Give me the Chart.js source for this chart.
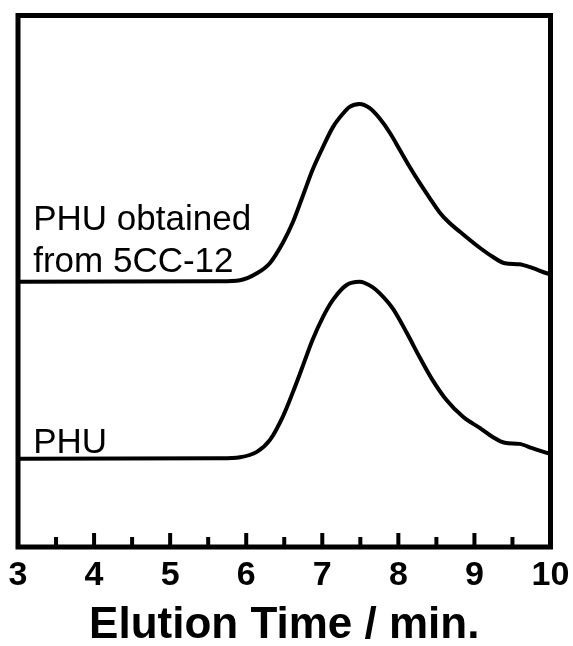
<!DOCTYPE html>
<html>
<head>
<meta charset="utf-8">
<script src="https://cdn.jsdelivr.net/npm/chart.js@4"></script>
<style>
  body { margin: 0; background: #fff; }
  #gpc { display: block; }
</style>
</head>
<body>
<canvas id="gpc" width="573" height="646"></canvas>
<script>
// GPC 曲線資料（從圖上讀出，訊號為任意單位）
var upperTime = [3.0, 5.65, 5.92, 6.14, 6.31, 6.48, 6.61, 6.74, 6.87, 7.01, 7.14, 7.27, 7.36, 7.49, 7.62, 7.75, 7.89, 8.02, 8.15, 8.28, 8.41, 8.54, 8.67, 8.81, 9.07, 9.24, 9.40, 9.59, 9.76, 9.95, 10.0];
var upperSignal = [49.9, 50.0, 50.2, 51.5, 53.4, 57.2, 61.0, 65.9, 70.9, 75.3, 79.0, 81.5, 82.8, 83.35, 82.6, 80.7, 77.9, 74.7, 71.5, 68.5, 65.7, 63.0, 61.0, 59.3, 56.3, 54.6, 53.4, 53.2, 52.5, 51.5, 51.3];

var lowerTime = [3.0, 5.65, 5.92, 6.14, 6.31, 6.48, 6.61, 6.74, 6.87, 7.01, 7.14, 7.32, 7.49, 7.66, 7.75, 7.93, 8.11, 8.28, 8.45, 8.63, 8.85, 9.07, 9.24, 9.40, 9.59, 9.76, 9.95, 10.0];
var lowerSignal = [16.6, 16.7, 16.9, 17.9, 20.1, 24.5, 29.0, 33.9, 38.9, 43.3, 46.5, 49.3, 49.9, 48.9, 47.8, 44.8, 40.3, 35.7, 31.4, 27.7, 24.5, 22.4, 20.7, 19.6, 19.4, 18.6, 17.7, 17.5];

var majorTicks = [3, 4, 5, 6, 7, 8, 9, 10];
var minorTicks = [3.5, 4.5, 5.5, 6.5, 7.5, 8.5, 9.5];

var FONT = '"Liberation Sans", Arial, Helvetica, sans-serif';

function toPoints(xs, ys) {
    return xs.map(function (x, i) { return { x: x, y: ys[i] }; });
}

// 外框與向內的刻度
var framePlugin = {
    id: 'frame',
    afterDatasetsDraw: function (chart) {
        var ctx = chart.ctx;
        var a = chart.chartArea;
        var xs = chart.scales.x;
        ctx.save();
        ctx.strokeStyle = '#000';
        ctx.lineWidth = 4;
        ctx.lineCap = 'butt';
        majorTicks.forEach(function (t) {
            var px = xs.getPixelForValue(t);
            ctx.beginPath();
            ctx.moveTo(px, a.bottom);
            ctx.lineTo(px, a.bottom - 14);
            ctx.stroke();
        });
        minorTicks.forEach(function (t) {
            var px = xs.getPixelForValue(t);
            ctx.beginPath();
            ctx.moveTo(px, a.bottom);
            ctx.lineTo(px, a.bottom - 10);
            ctx.stroke();
        });
        ctx.lineWidth = 5;
        ctx.strokeRect(a.left, a.top, a.right - a.left, a.bottom - a.top);
        ctx.restore();
    }
};

// 曲線旁的文字
var labelPlugin = {
    id: 'curveLabels',
    afterDatasetsDraw: function (chart) {
        var ctx = chart.ctx;
        var xs = chart.scales.x;
        var ys = chart.scales.y;
        var items = [
            { text: 'PHU obtained', x: 3.2, y: 59.6 },
            { text: 'from 5CC-12', x: 3.2, y: 51.7 },
            { text: 'PHU', x: 3.2, y: 17.7 }
        ];
        ctx.save();
        ctx.fillStyle = '#000';
        ctx.font = '35px ' + FONT;
        ctx.textAlign = 'left';
        ctx.textBaseline = 'alphabetic';
        items.forEach(function (it) {
            ctx.fillText(it.text, xs.getPixelForValue(it.x), ys.getPixelForValue(it.y));
        });
        ctx.restore();
    }
};

var lineStyle = {
    borderColor: '#000',
    borderWidth: 4,
    pointRadius: 0,
    fill: false,
    cubicInterpolationMode: 'monotone'
};

var chart = new Chart(document.getElementById('gpc').getContext('2d'), {
    type: 'line',
    data: {
        datasets: [
            Object.assign({ label: 'PHU obtained from 5CC-12', data: toPoints(upperTime, upperSignal) }, lineStyle),
            Object.assign({ label: 'PHU', data: toPoints(lowerTime, lowerSignal) }, lineStyle)
        ]
    },
    options: {
        responsive: false,
        animation: false,
        layout: { padding: { left: 18, right: 22.5, top: 15.5, bottom: 0 } },
        plugins: {
            legend: { display: false },
            tooltip: { enabled: false }
        },
        scales: {
            x: {
                type: 'linear',
                min: 3,
                max: 10,
                grid: { display: false, drawTicks: false },
                border: { display: false },
                ticks: {
                    stepSize: 1,
                    padding: 8,
                    color: '#000',
                    maxRotation: 0,
                    autoSkip: false,
                    font: { family: FONT, size: 34, weight: 'bold' }
                },
                title: {
                    display: true,
                    text: 'Elution Time / min.',
                    color: '#000',
                    padding: 0,
                    font: { family: FONT, size: 44, weight: 'bold', lineHeight: 0.9 }
                },
                afterFit: function (scale) {
                    scale.height = 99;
                    scale.paddingLeft = 0;
                    scale.paddingRight = 0;
                }
            },
            y: {
                display: false,
                min: 0,
                max: 100
            }
        }
    },
    plugins: [framePlugin, labelPlugin]
});
</script>
</body>
</html>
